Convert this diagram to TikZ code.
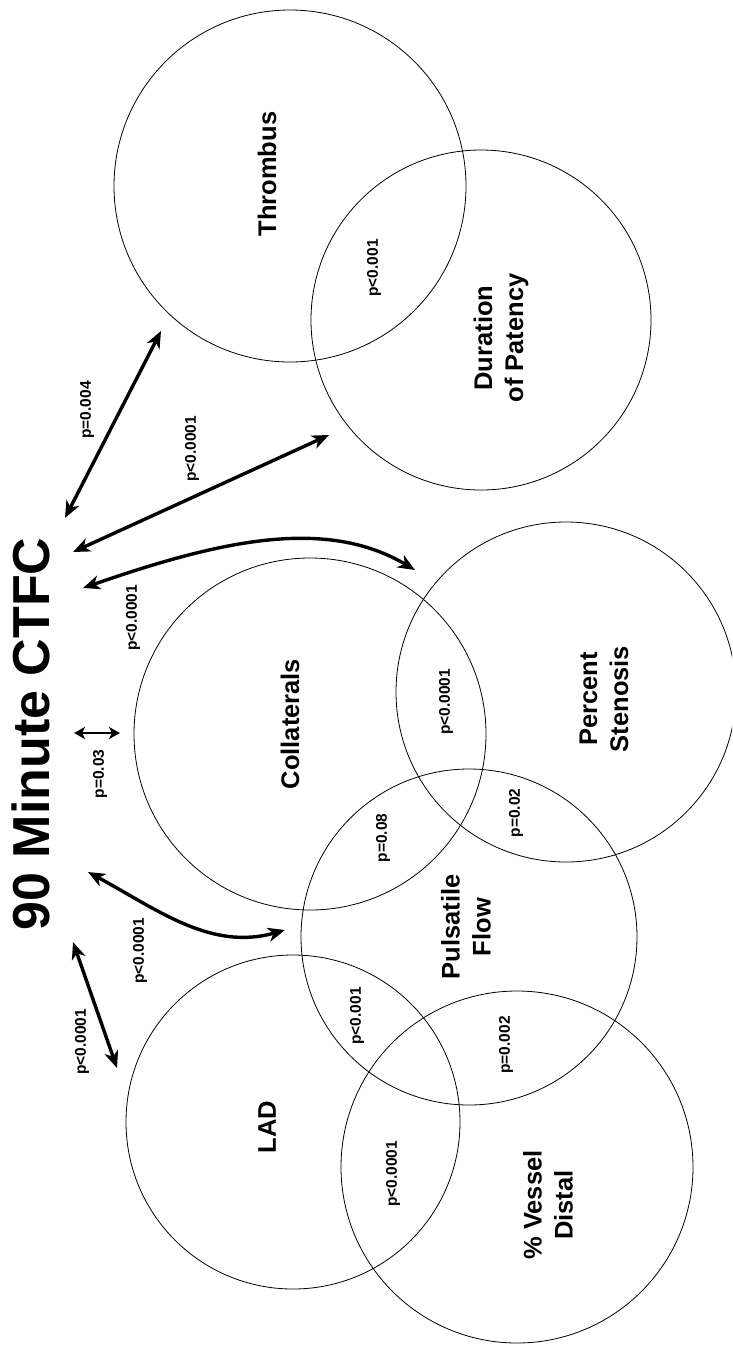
\documentclass[tikz,border=0pt]{standalone}
\usepackage{fontspec}
\setmainfont{Liberation Sans}
\usetikzlibrary{arrows.meta}

\begin{document}
\begin{tikzpicture}[x=1pt,y=-1pt,
  venn/.style={draw, circle, line width=0.8pt, minimum size=#1, inner sep=0pt},
  lab/.style={rotate=90, font=\bfseries\fontsize{25.5}{31}\selectfont, align=center, inner sep=0pt},
  pval/.style={rotate=90, font=\bfseries\fontsize{15.5}{18}\selectfont, inner sep=0pt},
  link/.style={line width=3.4pt, {Stealth[length=17pt,width=14pt,inset=5pt]}-{Stealth[length=17pt,width=14pt,inset=5pt]}},
  small/.style={line width=2.2pt, {Stealth[length=11pt,width=12pt,inset=3pt]}-{Stealth[length=11pt,width=12pt,inset=3pt]}},
]
\useasboundingbox (0,0) rectangle (732,1345);
\clip (0,0) rectangle (732,1345);

% factor circles
\node[venn=352pt] (thr) at (290,186) {};
\node[venn=340pt] (dur) at (481,320) {};
\node[venn=340pt] (ste) at (566,692) {};
\node[venn=352pt] (col) at (310,734) {};
\node[venn=336pt] (pul) at (469,937) {};
\node[venn=334pt] (lad) at (293,1122) {};
\node[venn=352pt] (ves) at (517,1167) {};

% factor names
\node[lab] (thrT) at (267,174) {Thrombus};
\node[lab] (durT) at (501,338) {Duration\\of Patency};
\node[lab] (colT) at (290,724) {Collaterals};
\node[lab] (steT) at (604,699) {Percent\\Stenosis};
\node[lab] (pulT) at (466,927) {Pulsatile\\Flow};
\node[lab] (ladT) at (267,1127) {LAD};
\node[lab] (vesT) at (548,1205) {\% Vessel\\Distal};

% overlap significance
\node[pval] (p1) at (374,268) {p<0.001};
\node[pval] (p2) at (446,702) {p<0.0001};
\node[pval] (p3) at (383,838) {p=0.08};
\node[pval] (p4) at (516,813) {p=0.02};
\node[pval] (p5) at (357,1016) {p<0.001};
\node[pval] (p6) at (506,1045) {p=0.002};
\node[pval] (p7) at (393,1174) {p<0.0001};

% outcome
\node[rotate=90, font=\bfseries\fontsize{52}{60}\selectfont, inner sep=0pt] (ctfc) at (31,734) {90 Minute CTFC};

% arrow end points
\coordinate (a1s) at (65,518);   \coordinate (a1e) at (161,331);
\coordinate (a2s) at (73,552);   \coordinate (a2e) at (329,435);
\coordinate (a3s) at (83,588);   \coordinate (a3e) at (415,570);
\coordinate (a4s) at (74,733);   \coordinate (a4e) at (120,733);
\coordinate (a5s) at (88,872);   \coordinate (a5e) at (285,930);
\coordinate (a6s) at (73,942);   \coordinate (a6e) at (117,1068);

\draw[link] (a1s) -- (a1e);
\draw[link] (a2s) -- (a2e);
\draw[link] (a3s) .. controls (216,542) and (324,516) .. (a3e);
\draw[small] (a4s) -- (a4e);
\draw[link] (a5s) .. controls (158,910) and (211,951) .. (a5e);
\draw[link] (a6s) -- (a6e);

% arrow labels
\node[pval] (q1) at (87,410) {p=0.004};
\node[pval] (q2) at (192,449) {p<0.0001};
\node[pval] (q3) at (133,618) {p<0.0001};
\node[pval] (q4) at (100,774) {p=0.03};
\node[pval] (q5) at (140,951) {p<0.0001};
\node[pval] (q6) at (82,1042) {p<0.0001};
\end{tikzpicture}
\end{document}
